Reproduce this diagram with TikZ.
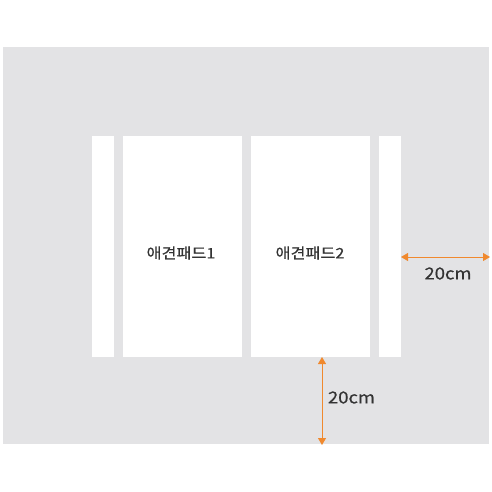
\documentclass[tikz,border=0pt]{standalone}
\usepackage{fontspec}
\setmainfont{Noto Sans CJK KR}
\newfontfamily\labelfont{Noto Sans CJK KR}[FakeBold=0.6,FakeStretch=1.12]
\usetikzlibrary{arrows.meta}
\definecolor{bggray}{HTML}{E3E3E5}
\definecolor{dimorange}{HTML}{F0892E}
\definecolor{txtgray}{HTML}{333333}
\begin{document}
\begin{tikzpicture}[x=1pt,y=-1pt,
  padbox/.style={fill=white,draw=none,inner sep=0pt,outer sep=0pt},
  dimline/.style={draw=dimorange,line width=0.9pt,{Triangle[length=7pt,width=8pt]}-{Triangle[length=7pt,width=8pt]}},
  padlabel/.style={text=txtgray,font=\labelfont\fontsize{14.5}{16}\selectfont},
  dimlabel/.style={text=txtgray,font=\labelfont\fontsize{16.5}{18}\selectfont}]
\fill[white] (0,0) rectangle (492,492);
\useasboundingbox (0,0) rectangle (492,492);
\node[fill=bggray,inner sep=0pt,minimum width=486pt,minimum height=397pt,anchor=north west] (floor) at (3,47) {};
\node[padbox,minimum width=22pt,minimum height=221pt,anchor=north west] (lstrip) at (92,136) {};
\node[padbox,minimum width=119pt,minimum height=221pt,anchor=north west] (pad1) at (123,136) {};
\node[padbox,minimum width=119pt,minimum height=221pt,anchor=north west] (pad2) at (251,136) {};
\node[padbox,minimum width=22pt,minimum height=221pt,anchor=north west] (rstrip) at (379,136) {};
\node[padlabel] (l1) at (181,253) {애견패드1};
\node[padlabel] (l2) at (310,253) {애견패드2};
\coordinate (hA) at (rstrip.east |- 0,257);
\coordinate (hB) at (490,257);
\draw[dimline] (hA) -- (hB);
\node[dimlabel] (hl) at (448,273.5) {20cm};
\coordinate (vA) at (322,357);
\coordinate (vB) at (322,445);
\draw[dimline] (vA) -- (vB);
\node[dimlabel] (vl) at (351.5,397.5) {20cm};
\end{tikzpicture}
\end{document}
